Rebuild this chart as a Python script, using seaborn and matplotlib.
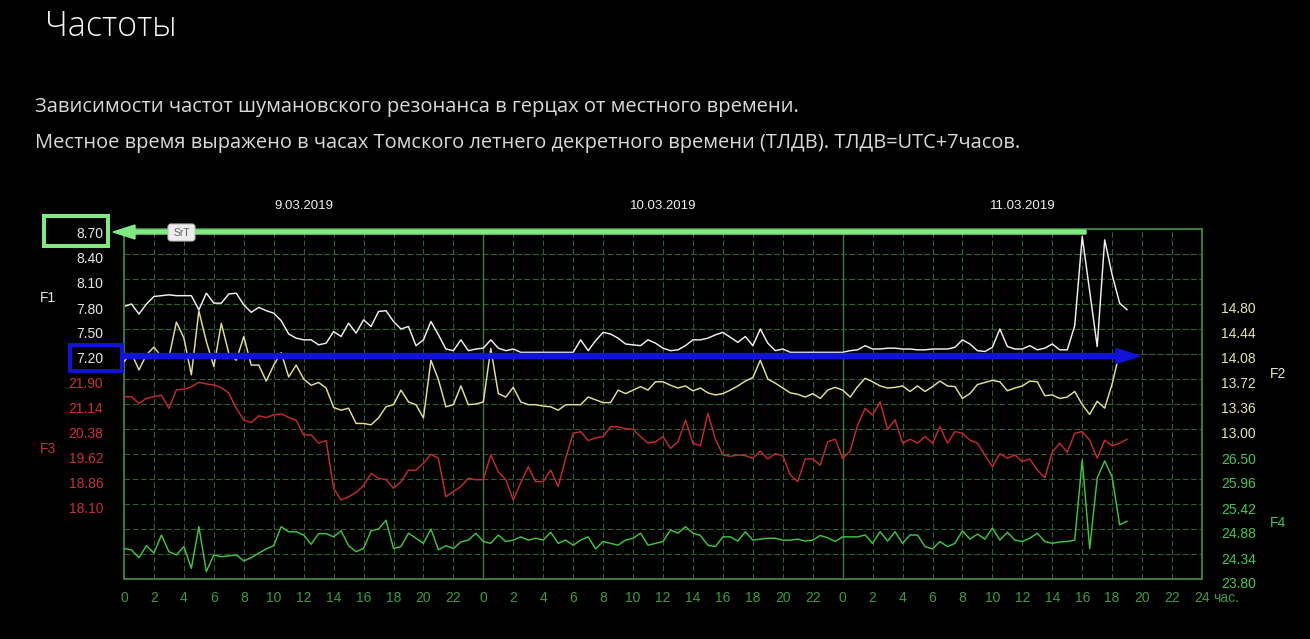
import numpy as np
import matplotlib
matplotlib.use("Agg")
import matplotlib.pyplot as plt
import seaborn as sns
from matplotlib import transforms, patches
from matplotlib.ticker import FixedLocator

# ---------------- data (one value every 30 min) ----------------
f1 = [7.77, 7.80, 7.68, 7.80, 7.89, 7.90, 7.91, 7.90, 7.90, 7.90,
      7.73, 7.93, 7.81, 7.81, 7.92, 7.93, 7.79, 7.70, 7.76, 7.72,
      7.69, 7.60, 7.44, 7.39, 7.37, 7.37, 7.31, 7.33, 7.47, 7.41,
      7.57, 7.45, 7.61, 7.53, 7.71, 7.72, 7.59, 7.50, 7.53, 7.30,
      7.37, 7.59, 7.43, 7.26, 7.24, 7.37, 7.24, 7.26, 7.27, 7.37,
      7.27, 7.24, 7.26, 7.22, 7.22, 7.22, 7.22, 7.22, 7.22, 7.22,
      7.22, 7.37, 7.24, 7.36, 7.46, 7.44, 7.39, 7.32, 7.31, 7.30,
      7.37, 7.33, 7.27, 7.24, 7.25, 7.30, 7.37, 7.37, 7.39, 7.43,
      7.46, 7.40, 7.34, 7.41, 7.30, 7.50, 7.33, 7.24, 7.26, 7.22,
      7.22, 7.22, 7.22, 7.22, 7.22, 7.22, 7.22, 7.24, 7.25, 7.30,
      7.26, 7.26, 7.27, 7.27, 7.26, 7.26, 7.25, 7.25, 7.26, 7.26,
      7.26, 7.28, 7.37, 7.32, 7.24, 7.23, 7.28, 7.50, 7.29, 7.26,
      7.26, 7.30, 7.25, 7.27, 7.32, 7.25, 7.25, 7.54, 8.61, 7.95,
      7.29, 8.57, 8.15, 7.81, 7.73]

f2 = [13.97, 14.09, 13.85, 14.07, 14.18, 14.04, 14.03, 14.54, 14.31, 13.78,
      14.70, 14.26, 13.90, 14.52, 14.09, 13.99, 14.33, 13.92, 13.92, 13.69,
      13.92, 14.10, 13.75, 13.92, 13.72, 13.63, 13.67, 13.59, 13.31, 13.27,
      13.30, 13.08, 13.08, 13.06, 13.16, 13.32, 13.35, 13.56, 13.39, 13.35,
      13.16, 13.99, 13.71, 13.32, 13.35, 13.62, 13.35, 13.36, 13.39, 14.16,
      13.51, 13.46, 13.60, 13.39, 13.35, 13.35, 13.33, 13.32, 13.27, 13.35,
      13.35, 13.35, 13.46, 13.42, 13.38, 13.38, 13.56, 13.51, 13.56, 13.61,
      13.56, 13.68, 13.68, 13.63, 13.59, 13.62, 13.55, 13.59, 13.52, 13.49,
      13.51, 13.56, 13.62, 13.69, 13.74, 13.99, 13.72, 13.66, 13.59, 13.52,
      13.50, 13.46, 13.51, 13.44, 13.56, 13.60, 13.56, 13.46, 13.61, 13.73,
      13.68, 13.62, 13.59, 13.60, 13.62, 13.54, 13.62, 13.54, 13.61, 13.69,
      13.62, 13.61, 13.44, 13.51, 13.64, 13.67, 13.70, 13.68, 13.55, 13.59,
      13.62, 13.69, 13.68, 13.48, 13.49, 13.44, 13.46, 13.54, 13.35, 13.21,
      13.40, 13.30, 13.65, 14.11]

f3 = [21.36, 21.36, 21.16, 21.31, 21.36, 21.41, 21.01, 21.57, 21.59, 21.66,
      21.80, 21.75, 21.72, 21.64, 21.47, 21.01, 20.65, 20.58, 20.78, 20.73,
      20.81, 20.84, 20.73, 20.64, 20.20, 20.20, 19.95, 20.03, 18.58, 18.22,
      18.32, 18.45, 18.66, 19.03, 18.88, 18.84, 18.58, 18.78, 19.13, 19.13,
      19.34, 19.61, 19.49, 18.32, 18.48, 18.63, 18.88, 18.84, 18.84, 19.59,
      19.08, 18.84, 18.22, 18.75, 19.23, 18.78, 18.78, 19.13, 18.63, 19.49,
      20.25, 20.30, 20.03, 20.11, 20.15, 20.45, 20.45, 20.39, 20.37, 20.15,
      19.95, 19.99, 20.15, 19.79, 19.99, 20.65, 19.95, 19.87, 20.86, 20.07,
      19.59, 19.55, 19.59, 19.57, 19.49, 19.71, 19.47, 19.63, 19.57, 18.98,
      18.78, 19.47, 19.47, 19.28, 19.99, 20.07, 19.49, 19.71, 20.50, 21.01,
      20.80, 21.21, 20.37, 20.66, 19.95, 20.07, 19.95, 20.15, 19.95, 20.45,
      19.95, 20.30, 20.25, 20.04, 19.95, 19.59, 19.23, 19.63, 19.49, 19.59,
      19.39, 19.47, 19.13, 18.90, 19.67, 19.95, 19.67, 20.25, 20.30, 20.04,
      19.49, 20.04, 19.87, 19.95, 20.07]

f4 = [24.46, 24.43, 24.26, 24.52, 24.36, 24.75, 24.39, 24.32, 24.50, 24.03,
      24.93, 23.96, 24.32, 24.28, 24.30, 24.32, 24.19, 24.26, 24.36, 24.45,
      24.52, 24.93, 24.82, 24.82, 24.75, 24.55, 24.78, 24.78, 24.71, 24.84,
      24.52, 24.39, 24.46, 24.84, 24.88, 25.07, 24.46, 24.50, 24.79, 24.68,
      24.57, 24.88, 24.43, 24.52, 24.46, 24.60, 24.64, 24.79, 24.61, 24.57,
      24.75, 24.61, 24.64, 24.71, 24.64, 24.68, 24.64, 24.81, 24.57, 24.64,
      24.53, 24.64, 24.71, 24.45, 24.61, 24.57, 24.53, 24.64, 24.68, 24.79,
      24.53, 24.57, 24.61, 24.86, 24.79, 24.93, 24.79, 24.74, 24.53, 24.50,
      24.71, 24.71, 24.62, 24.82, 24.64, 24.66, 24.68, 24.68, 24.64, 24.64,
      24.66, 24.62, 24.64, 24.74, 24.69, 24.61, 24.71, 24.71, 24.71, 24.75,
      24.57, 24.82, 24.62, 24.82, 24.57, 24.75, 24.75, 24.50, 24.45, 24.61,
      24.50, 24.57, 24.84, 24.66, 24.77, 24.66, 24.90, 24.64, 24.81, 24.64,
      24.61, 24.68, 24.79, 24.61, 24.57, 24.60, 24.61, 24.64, 26.37, 24.46,
      25.98, 26.35, 26.00, 24.97, 25.05]

hours = np.arange(len(f1)) * 0.5          # hours since 9.03.2019 00:00
dates = ["9.03.2019", "10.03.2019", "11.03.2019"]
f1_labels = ["8.70", "8.40", "8.10", "7.80", "7.50", "7.20"]
f2_labels = ["14.80", "14.44", "14.08", "13.72", "13.36", "13.00"]
f3_labels = ["21.90", "21.14", "20.38", "19.62", "18.86", "18.10"]
f4_labels = ["26.50", "25.96", "25.42", "24.88", "24.34", "23.80"]

title = "Частоты"
desc1 = "Зависимости частот шумановского резонанса в герцах от местного времени."
desc2 = "Местное время выражено в часах Томского летнего декретного времени (ТЛДВ). ТЛДВ=UTC+7часов."

# ---------------- style ----------------
sns.set_theme(style="dark")
plt.rcParams["font.family"] = ["Liberation Sans", "DejaVu Sans"]
plt.rcParams["axes.grid"] = False

W, H = 1310, 639
fig = plt.figure(figsize=(W / 100, H / 100), dpi=100, facecolor="black")
ax1 = fig.add_axes([124 / W, 60 / H, 1078 / W, 350 / H])
ax1.set_facecolor("black")
ax2 = ax1.twinx()
ax3 = ax1.twinx()
ax4 = ax1.twinx()

C_F1, C_F2, C_F3, C_F4 = "#f0f0f0", "#e2e290", "#c42a2c", "#3fc43f"
L_F1, L_F2, L_F3, L_F4 = "#e6e6e6", "#e6e6a6", "#c83232", "#46c846"
FRAME = "#3d7a3d"
GRID = "#305e30"

lw = 1.05
sns.lineplot(x=hours, y=f1, ax=ax1, color=C_F1, linewidth=lw, legend=False)
sns.lineplot(x=hours[:len(f2)], y=f2, ax=ax2, color=C_F2, linewidth=lw, legend=False)
sns.lineplot(x=hours, y=f3, ax=ax3, color=C_F3, linewidth=lw, legend=False)
sns.lineplot(x=hours, y=f4, ax=ax4, color=C_F4, linewidth=lw, legend=False)

ax1.set_xlim(0, 72)
# 14 grid rows, each axis has its own scale
ax1.set_ylim(4.50, 8.70)
ax2.set_ylim(10.84, 15.88)
ax3.set_ylim(15.82, 26.46)
ax4.set_ylim(23.80, 31.36)

offset = transforms.ScaledTranslation(0, -4 / 100, fig.dpi_scale_trans)


def setup_axis(ax, labels, color, side):
    ax.set_ylabel("")
    ax.set_xlabel("")
    if side == "left":
        ax.yaxis.tick_left()
        pad = 15
    else:
        ax.yaxis.tick_right()
        pad = 13.5
    ax.yaxis.set_major_locator(FixedLocator([float(s) for s in labels]))
    ax.set_yticklabels(labels)
    ax.tick_params(axis="y", length=0, pad=pad, colors=color, labelsize=10)
    for lbl in ax.get_yticklabels():
        lbl.set_transform(lbl.get_transform() + offset)
    if ax is not ax1:
        ax.set_facecolor("none")
        for s in ax.spines.values():
            s.set_visible(False)


setup_axis(ax1, f1_labels, L_F1, "left")
setup_axis(ax3, f3_labels, L_F3, "left")
setup_axis(ax2, f2_labels, L_F2, "right")
setup_axis(ax4, f4_labels, L_F4, "right")

# grid: one dashed row per scale step, one dashed column every 2 hours
grid_style = dict(color=GRID, linestyle=(0, (5, 2.5)), linewidth=0.8)
rows = 4.50 + 0.30 * np.arange(15)
ax1.yaxis.remove_overlapping_locs = False
ax1.yaxis.set_minor_locator(FixedLocator(rows))
ax1.tick_params(axis="y", which="minor", length=0)
ax1.grid(True, which="both", axis="y", **grid_style)
xt = np.arange(0, 73, 2)
ax1.set_xticks(xt)
ax1.set_xticklabels([str(int(h % 24)) if h < 72 else "24" for h in xt])
ax1.grid(True, which="major", axis="x", **grid_style)
ax1.tick_params(axis="x", length=3.5, width=0.8, pad=5, colors="#3c9c3c", labelsize=10)
ax1.tick_params(axis="x", color=GRID)
for d in (24, 48):
    ax1.axvline(d, color=FRAME, linewidth=1.0, zorder=1.5)
for s in ax1.spines.values():
    s.set_color(FRAME)
    s.set_linewidth(1.4)
for ax in (ax2, ax3, ax4):
    ax.tick_params(axis="x", length=0)

# date labels above each day
bt = transforms.blended_transform_factory(ax1.transData, ax1.transAxes)
for i, d in enumerate(dates):
    ax1.text(12 + 24 * i, 1 + 23 / 350, d, transform=bt, ha="center", va="center",
             color="#f0f0f0", fontsize=9.5)

# text
fig.text(45 / W, 1 - 27 / H, title, fontsize=24.5, color="#f4f4f4", family="Open Sans",
         fontweight="light", va="center", ha="left")
fig.text(35 / W, 1 - 107 / H, desc1, fontsize=14.5, color="#dadada", family="Open Sans",
         va="center", ha="left")
fig.text(35 / W, 1 - 143 / H, desc2, fontsize=14.4, color="#dadada", family="Open Sans",
         va="center", ha="left")
fig.text(1213 / W, 1 - 598 / H, "час.", fontsize=10, color="#3c9c3c", va="center", ha="left")
fig.text(40 / W, 1 - 298 / H, "F1", fontsize=10, color=L_F1, va="center", ha="left")
fig.text(40 / W, 1 - 449 / H, "F3", fontsize=10, color=L_F3, va="center", ha="left")
fig.text(1270 / W, 1 - 374 / H, "F2", fontsize=10, color="#e8e8c8", va="center", ha="left")
fig.text(1270 / W, 1 - 523 / H, "F4", fontsize=10, color=L_F4, va="center", ha="left")

# overlay marks (boxes, arrows, button) in pixel coordinates
pix = transforms.IdentityTransform()
GREEN_M, BLUE_M = "#82e882", "#1212d8"
fig.add_artist(patches.Rectangle((43.5, H - 246), 64, 30, fill=False, edgecolor=GREEN_M,
                                 linewidth=2.9, transform=pix, zorder=20))
fig.add_artist(patches.FancyArrow(1086, H - 232, 113 - 1086, 0, width=4, head_width=14,
                                  head_length=22, length_includes_head=True, color=GREEN_M,
                                  transform=pix, zorder=20))
fig.add_artist(patches.Rectangle((69.5, H - 371), 52, 26, fill=False, edgecolor=BLUE_M,
                                 linewidth=2.9, transform=pix, zorder=20))
fig.add_artist(patches.FancyArrow(122, H - 356, 1140 - 122, 0, width=5, head_width=15,
                                  head_length=24, length_includes_head=True, color=BLUE_M,
                                  transform=pix, zorder=20))
fig.add_artist(patches.FancyBboxPatch((168, H - 241), 27, 17,
                                      boxstyle="round,pad=0,rounding_size=3",
                                      facecolor="#ececec", edgecolor="#bdbdbd", linewidth=0.8,
                                      transform=pix, zorder=21))
fig.text(181.5 / W, 1 - 233 / H, "SrT", fontsize=7.5, color="#606060", ha="center",
         va="center", zorder=22)

fig.savefig("out.png", dpi=100, facecolor="black")
